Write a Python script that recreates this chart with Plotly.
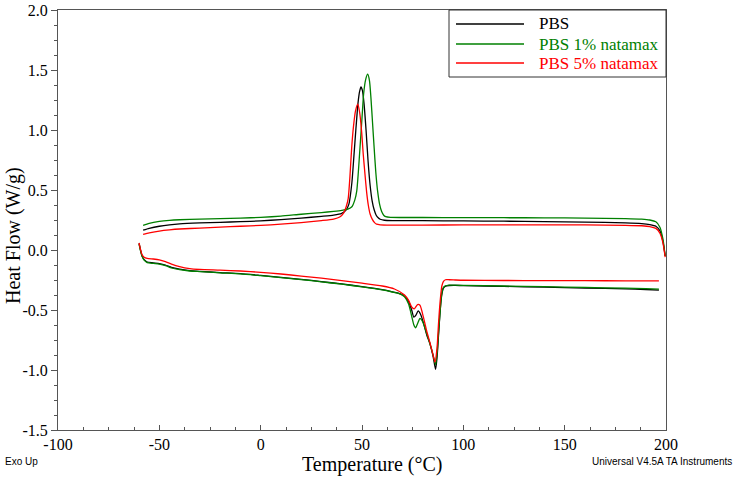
import plotly.graph_objects as go

# ---------------- data ----------------
series_names = ["PBS", "PBS 1% natamax", "PBS 5% natamax"]
series_colors = ["#000000", "#008000", "#ff0000"]

# PBS - cooling (exothermic crystallisation peak)
pbs_cool_T = [-58, -55, -50, -45, -40, -30, -20, -10, 0, 10, 20, 30, 36, 40, 42, 43.5, 45, 46, 47, 48,
              48.8, 49.5, 50.2, 51, 52, 53, 54, 55, 56, 57, 58, 59, 61, 65, 80, 100, 120, 140, 160, 180,
              188, 192, 195, 197, 198.5, 199.6]
pbs_cool_H = [0.165, 0.18, 0.198, 0.21, 0.218, 0.226, 0.231, 0.236, 0.243, 0.253, 0.266, 0.28, 0.29, 0.305,
              0.33, 0.38, 0.56, 0.78, 1.01, 1.22, 1.32, 1.36, 1.33, 1.22, 1.0, 0.74, 0.54, 0.41, 0.335,
              0.29, 0.268, 0.256, 0.248, 0.245, 0.244, 0.242, 0.24, 0.236, 0.232, 0.226, 0.22, 0.212,
              0.198, 0.16, 0.07, -0.05]
# PBS - heating (melting endotherm)
pbs_heat_T = [-60, -59.3, -58.5, -57.5, -56, -53, -50, -47, -44, -40, -35, -30, -20, -10, 0, 10, 20,
              30, 40, 50, 60, 65, 69, 71, 73, 74.5, 75.6, 76.7, 77.7, 79, 80.5, 82, 83.5, 85, 86.3, 87,
              87.8, 88.6, 89.3, 90.1, 91, 93, 96, 100, 120, 140, 160, 180, 190, 196.5]
pbs_heat_H = [0.055, 0.0, -0.05, -0.08, -0.1, -0.107, -0.113, -0.125, -0.145, -0.16, -0.172,
              -0.178, -0.188, -0.197, -0.212, -0.228, -0.245, -0.263, -0.283, -0.305, -0.33, -0.348,
              -0.365, -0.385, -0.43, -0.5, -0.56, -0.54, -0.508, -0.54, -0.62, -0.71, -0.78, -0.88,
              -0.995, -0.9, -0.7, -0.5, -0.38, -0.32, -0.303, -0.296, -0.295, -0.297, -0.303, -0.31,
              -0.317, -0.324, -0.329, -0.334]

# PBS 1% natamax - cooling
n1_cool_T = [-58, -55, -50, -45, -40, -30, -20, -10, 0, 10, 20, 30, 36, 40, 43, 45, 46.5, 47.4, 48.2, 49,
             50, 50.8, 51.8, 52.8, 53.7, 54.4, 55.2, 56, 56.8, 57.7, 58.7, 59.7, 60.7, 61.7, 64, 80, 100,
             120, 140, 160, 180, 188, 192, 195, 197, 198.5, 199.6]
n1_cool_H = [0.205, 0.222, 0.238, 0.247, 0.252, 0.258, 0.262, 0.266, 0.272, 0.282, 0.298, 0.312, 0.322,
             0.33, 0.34, 0.36, 0.42, 0.49, 0.65, 0.85, 1.1, 1.3, 1.42, 1.465, 1.41, 1.27, 1.06, 0.85,
             0.65, 0.49, 0.38, 0.32, 0.29, 0.278, 0.272, 0.271, 0.27, 0.269, 0.268, 0.266, 0.262,
             0.257, 0.25, 0.235, 0.19, 0.09, -0.05]
# PBS 1% natamax - heating
n1_heat_T = [-60, -59.3, -58.5, -57.5, -56, -53, -50, -47, -44, -40, -35, -30, -20, -10, 0, 10, 20,
             30, 40, 50, 60, 65, 69, 71, 73, 74.5, 75.5, 76.5, 77.5, 78.6, 80, 82, 83.5, 85, 86.3, 87.1,
             87.8, 88.6, 89.3, 90.1, 91, 93, 96, 100, 120, 140, 160, 180, 190, 196.5]
n1_heat_H = [0.05, -0.005, -0.055, -0.085, -0.105, -0.112, -0.118, -0.13, -0.15, -0.164, -0.175,
             -0.18, -0.19, -0.199, -0.214, -0.23, -0.247, -0.265, -0.285, -0.307, -0.332, -0.35, -0.367,
             -0.39, -0.45, -0.55, -0.62, -0.648, -0.61, -0.57, -0.6, -0.7, -0.78, -0.87, -0.955, -0.85,
             -0.68, -0.5, -0.37, -0.315, -0.3, -0.293, -0.293, -0.295, -0.3, -0.306, -0.312, -0.318,
             -0.322, -0.326]

# PBS 5% natamax - cooling
n5_cool_T = [-58, -55, -50, -45, -40, -30, -20, -10, 0, 10, 20, 30, 36, 39, 41, 42.2, 43.2, 44, 44.9, 45.8,
             46.8, 47.9, 48.8, 49.8, 50.6, 51.5, 52.3, 53.1, 54, 55.1, 56.2, 57.2, 59, 65, 80, 100, 120,
             140, 160, 180, 188, 192, 195, 197, 198.5, 199.6]
n5_cool_H = [0.13, 0.142, 0.158, 0.168, 0.175, 0.183, 0.19, 0.198, 0.205, 0.215, 0.228, 0.245, 0.258,
             0.275, 0.31, 0.36, 0.43, 0.6, 0.85, 1.03, 1.16, 1.215, 1.15, 0.99, 0.8, 0.625, 0.48, 0.375,
             0.3, 0.255, 0.228, 0.215, 0.21, 0.208, 0.208, 0.209, 0.21, 0.21, 0.209, 0.206, 0.202,
             0.195, 0.18, 0.14, 0.06, -0.06]
# PBS 5% natamax - heating
n5_heat_T = [-60, -59.3, -58.5, -57.5, -56, -53, -50, -47, -44, -40, -35, -30, -20, -10, 0, 10, 20,
             30, 40, 50, 60, 66, 71, 73, 74.5, 75.8, 77.4, 78.6, 80.3, 82, 83.5, 85, 86, 87, 87.8, 88.6,
             89.4, 90.2, 91.2, 93, 96, 100, 120, 140, 160, 180, 190, 196.5]
n5_heat_H = [0.06, 0.005, -0.04, -0.06, -0.07, -0.075, -0.082, -0.097, -0.117, -0.138, -0.155, -0.162,
             -0.168, -0.175, -0.186, -0.2, -0.217, -0.235, -0.255, -0.276, -0.3, -0.325, -0.375, -0.42,
             -0.475, -0.49, -0.455, -0.46, -0.56, -0.68, -0.77, -0.87, -0.935, -0.82, -0.6, -0.42, -0.3,
             -0.262, -0.248, -0.248, -0.25, -0.252, -0.254, -0.255, -0.256, -0.257, -0.258, -0.258]

x_tick_vals = [-100, -50, 0, 50, 100, 150, 200]
x_tick_text = ["-100", "-50", "0", "50", "100", "150", "200"]
y_tick_vals = [-1.5, -1.0, -0.5, 0.0, 0.5, 1.0, 1.5, 2.0]
y_tick_text = ["-1.5", "-1.0", "-0.5", "0.0", "0.5", "1.0", "1.5", "2.0"]

# ---------------- figure ----------------
W, H = 737, 481
ML, MR, MT, MB = 58, 71, 10, 51
PW, PH = W - ML - MR, H - MT - MB

def px_x(p):  # pixel column -> paper x
    return (p - ML) / PW

def px_y(p):  # pixel row -> paper y
    return (H - MB - p) / PH

SERIF = "Liberation Serif, Times New Roman, serif"
SANS = "Liberation Sans, Arial, sans-serif"
AXIS_COLOR = "#555555"

curves = [
    (pbs_cool_T, pbs_cool_H, pbs_heat_T, pbs_heat_H),
    (n1_cool_T, n1_cool_H, n1_heat_T, n1_heat_H),
    (n5_cool_T, n5_cool_H, n5_heat_T, n5_heat_H),
]

fig = go.Figure()
for name, color, (cT, cH, hT, hH) in zip(series_names, series_colors, curves):
    fig.add_trace(go.Scatter(
        x=list(cT) + [None] + list(hT),
        y=list(cH) + [None] + list(hH),
        mode="lines",
        line=dict(color=color, width=1.3, shape="spline", smoothing=0.6),
        name=name,
        connectgaps=False,
        showlegend=False,
    ))

# legend box drawn as in the instrument software
shapes = [dict(type="rect", xref="paper", yref="paper",
               x0=px_x(449), x1=1, y0=px_y(77), y1=1,
               line=dict(color="#333333", width=1), fillcolor="white", layer="above")]
annotations = []
legend_rows = [24, 44, 63]
for name, color, row in zip(series_names, series_colors, legend_rows):
    shapes.append(dict(type="line", xref="paper", yref="paper",
                       x0=px_x(456), x1=px_x(524), y0=px_y(row), y1=px_y(row),
                       line=dict(color=color, width=1.3), layer="above"))
    annotations.append(dict(text=name, xref="paper", yref="paper", x=px_x(537), y=px_y(row),
                            xanchor="left", yanchor="middle", showarrow=False,
                            font=dict(family=SERIF, size=17, color=color)))

annotations += [
    dict(text="Heat Flow (W/g)", xref="paper", yref="paper", x=px_x(13), y=px_y(236),
         xanchor="center", yanchor="middle", textangle=-90, showarrow=False,
         font=dict(family=SERIF, size=20, color="black")),
    dict(text="Temperature (°C)", xref="paper", yref="paper", x=px_x(372), y=px_y(465),
         xanchor="center", yanchor="middle", showarrow=False,
         font=dict(family=SERIF, size=20, color="black")),
    dict(text="Exo Up", xref="paper", yref="paper", x=px_x(3), y=px_y(461),
         xanchor="left", yanchor="middle", showarrow=False,
         font=dict(family=SANS, size=10, color="black")),
    dict(text="Universal V4.5A TA Instruments", xref="paper", yref="paper", x=px_x(734), y=px_y(461),
         xanchor="right", yanchor="middle", showarrow=False,
         font=dict(family=SANS, size=10, color="black")),
]

fig.update_layout(
    width=W, height=H,
    margin=dict(l=ML, r=MR, t=MT, b=MB, autoexpand=False),
    paper_bgcolor="white", plot_bgcolor="white",
    showlegend=False,
    shapes=shapes,
    annotations=annotations,
    xaxis=dict(
        range=[-100, 200], tickvals=x_tick_vals, ticktext=x_tick_text,
        showgrid=False, zeroline=False, automargin=False,
        showline=True, linecolor=AXIS_COLOR, linewidth=1, mirror=True,
        ticks="inside", ticklen=5, tickcolor=AXIS_COLOR,
        minor=dict(dtick=12.5, ticks="inside", ticklen=3, tickcolor=AXIS_COLOR),
        tickfont=dict(family=SERIF, size=16, color="black"),
    ),
    yaxis=dict(
        range=[-1.5, 2.0], tickvals=y_tick_vals, ticktext=y_tick_text,
        showgrid=False, zeroline=False, automargin=False,
        showline=True, linecolor=AXIS_COLOR, linewidth=1, mirror=True,
        ticks="outside", ticklen=6, tickcolor=AXIS_COLOR,
        minor=dict(dtick=0.125, ticks="outside", ticklen=3, tickcolor=AXIS_COLOR),
        tickfont=dict(family=SERIF, size=16, color="black"),
    ),
)

fig.write_html("out.html")
